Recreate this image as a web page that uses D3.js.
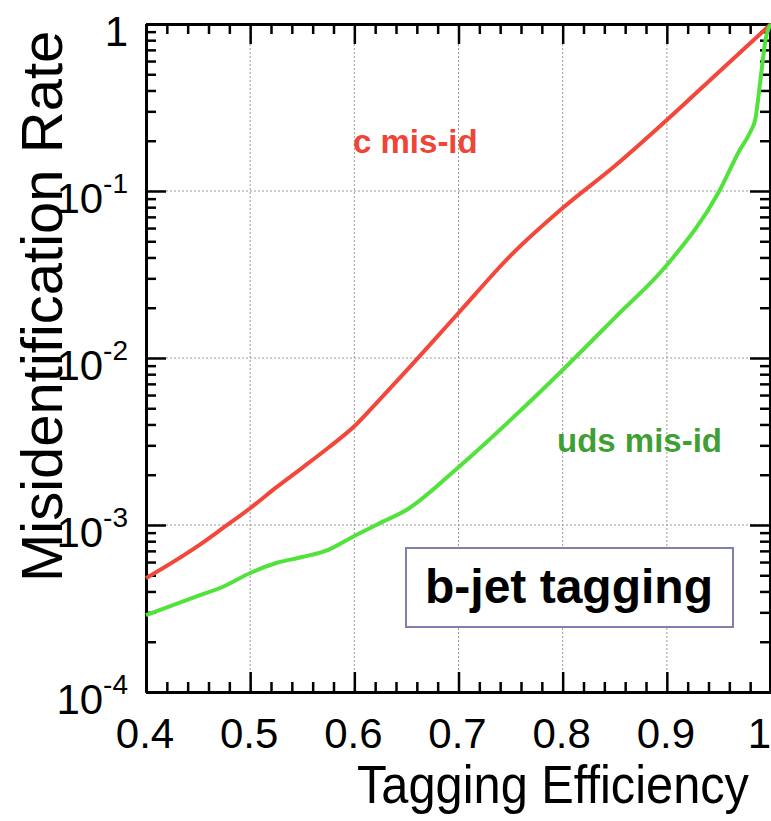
<!DOCTYPE html>
<html lang="en">
<head>
    <meta charset="UTF-8">
    <title>b-jet tagging</title>
    <script src="https://d3js.org/d3.v7.min.js"></script>
    <style>
        body { margin: 0; background: #fff; }
        svg text { font-family: "Liberation Sans", Arial, Helvetica, sans-serif; }
        .grid line { stroke: #999; stroke-width: 1px; stroke-dasharray: 2,2; }
        .axis path { stroke: #000; stroke-width: 3px; }
        .axis line { stroke: #000; stroke-width: 2.5px; }
    </style>
</head>
<body>
    <div id="chart"></div>
    <script>
        // tagging efficiency (x) and misidentification rate (y)
        const cEff  = [0.40, 0.45, 0.475, 0.50, 0.525, 0.55, 0.575, 0.60, 0.625, 0.65, 0.70, 0.75, 0.80, 0.85, 0.90, 0.95, 1.00];
        const cRate = [4.8e-4, 7.5e-4, 9.7e-4, 1.26e-3, 1.68e-3, 2.2e-3, 2.9e-3, 3.9e-3, 5.7e-3, 8.4e-3, 1.86e-2, 4.1e-2, 7.9e-2, 0.141, 0.266, 0.516, 1.0];

        const udsEff  = [0.40, 0.45, 0.475, 0.50, 0.525, 0.55, 0.575, 0.60, 0.625, 0.65, 0.70, 0.75, 0.80, 0.85, 0.90, 0.95, 0.97, 0.98, 0.985, 0.99, 0.995, 1.00];
        const udsRate = [2.89e-4, 3.76e-4, 4.3e-4, 5.16e-4, 5.92e-4, 6.43e-4, 7.1e-4, 8.6e-4, 1.03e-3, 1.23e-3, 2.22e-3, 4.26e-3, 8.48e-3, 1.74e-2, 3.6e-2, 9.9e-2, 0.176, 0.225, 0.27, 0.47, 0.82, 1.0];

        const xTicks = [0.4, 0.5, 0.6, 0.7, 0.8, 0.9, 1.0];
        const xTickLabels = ["0.4", "0.5", "0.6", "0.7", "0.8", "0.9", "1"];
        const yTicks = [1e-4, 1e-3, 1e-2, 1e-1, 1];
        const yTickExp = ["-4", "-3", "-2", "-1", null];

        const W = 771, H = 821;
        const pLeft = 146, pRight = 771, pTop = 24, pBottom = 692;

        const svg = d3.select("#chart").append("svg")
            .attr("width", W)
            .attr("height", H);

        const x = d3.scaleLinear().domain([0.4, 1.0]).range([pLeft, pRight]);
        const y = d3.scaleLog().domain([1e-4, 1]).range([pBottom, pTop]);

        const xMinor = d3.range(0.42, 1.0, 0.02).filter(v => Math.abs(v * 10 - Math.round(v * 10)) > 1e-6);
        const yMinor = [];
        [1e-4, 1e-3, 1e-2, 1e-1].forEach(d => { for (let k = 2; k <= 9; k++) yMinor.push(d * k); });

        // grid
        svg.append("g").attr("class", "grid")
            .selectAll("line")
            .data(xTicks.slice(1, -1))
            .enter().append("line")
              .attr("x1", d => x(d)).attr("x2", d => x(d))
              .attr("y1", pTop).attr("y2", pBottom);
        svg.append("g").attr("class", "grid")
            .selectAll("line")
            .data(yTicks.slice(1, -1))
            .enter().append("line")
              .attr("x1", pLeft).attr("x2", pRight)
              .attr("y1", d => y(d)).attr("y2", d => y(d));

        // axes with inward ticks on all four sides
        function frame(axisFn, pos, values, size) {
            return svg.append("g")
                .attr("class", "axis")
                .attr("transform", pos)
                .call(axisFn.tickValues(values).tickSize(-size).tickFormat("").tickSizeOuter(0));
        }
        frame(d3.axisBottom(x), `translate(0,${pBottom})`, xTicks, 20);
        frame(d3.axisBottom(x), `translate(0,${pBottom})`, xMinor, 10);
        frame(d3.axisTop(x), `translate(0,${pTop})`, xTicks, 20);
        frame(d3.axisTop(x), `translate(0,${pTop})`, xMinor, 10);
        frame(d3.axisLeft(y), `translate(${pLeft},0)`, yTicks, 20);
        frame(d3.axisLeft(y), `translate(${pLeft},0)`, yMinor, 10);
        frame(d3.axisRight(y), `translate(${pRight - 1},0)`, yTicks, 20);
        frame(d3.axisRight(y), `translate(${pRight - 1},0)`, yMinor, 10);

        // tick labels (last one pulled inside the edge)
        svg.append("g")
            .selectAll("text")
            .data(xTicks)
            .enter().append("text")
              .attr("x", d => d === 1 ? x(d) : x(d) - 1)
              .attr("y", pBottom + 56)
              .attr("text-anchor", d => d === 1 ? "end" : "middle")
              .style("font-size", "42px")
              .text((d, i) => xTickLabels[i]);

        const yl = svg.append("g")
            .selectAll("text")
            .data(yTicks)
            .enter().append("text")
              .attr("x", 128)
              .attr("y", d => y(d) + 22)
              .attr("text-anchor", "end")
              .style("font-size", "42px");
        yl.each(function(d, i) {
            const t = d3.select(this);
            if (yTickExp[i] === null) {
                t.text("1");
            } else {
                t.append("tspan").text("10");
                t.append("tspan").attr("dy", -20).style("font-size", "28px").text(yTickExp[i]);
            }
        });

        // curves
        const line = d3.line()
            .x(d => x(d[0]))
            .y(d => y(d[1]))
            .curve(d3.curveMonotoneX);

        svg.append("path")
            .datum(cEff.map((e, i) => [e, cRate[i]]))
            .attr("fill", "none")
            .attr("stroke", "#f2473a")
            .attr("stroke-width", 4)
            .attr("d", line);

        svg.append("path")
            .datum(udsEff.map((e, i) => [e, udsRate[i]]))
            .attr("fill", "none")
            .attr("stroke", "#52e23c")
            .attr("stroke-width", 4)
            .attr("d", line);

        // labels
        svg.append("text")
            .attr("x", 353).attr("y", 153)
            .style("font-size", "33px").style("font-weight", "bold")
            .style("fill", "#ee4536")
            .text("c mis-id");

        svg.append("text")
            .attr("x", 557).attr("y", 452)
            .style("font-size", "33px").style("font-weight", "bold")
            .style("fill", "#3f9f35")
            .text("uds mis-id");

        svg.append("rect")
            .attr("x", 406).attr("y", 548)
            .attr("width", 327).attr("height", 79)
            .attr("fill", "#fff")
            .attr("stroke", "#8080b0")
            .attr("stroke-width", 2);

        svg.append("text")
            .attr("x", 569).attr("y", 603)
            .attr("text-anchor", "middle")
            .style("font-size", "48px").style("font-weight", "bold")
            .text("b-jet tagging");

        // axis titles
        svg.append("text")
            .attr("transform", "translate(357,803) scale(0.92,1)")
            .style("font-size", "53px")
            .text("Tagging Efficiency");

        svg.append("text")
            .attr("transform", "rotate(-90)")
            .attr("x", -582).attr("y", 62)
            .style("font-size", "58px")
            .text("Misidentification Rate");
    </script>
</body>
</html>
